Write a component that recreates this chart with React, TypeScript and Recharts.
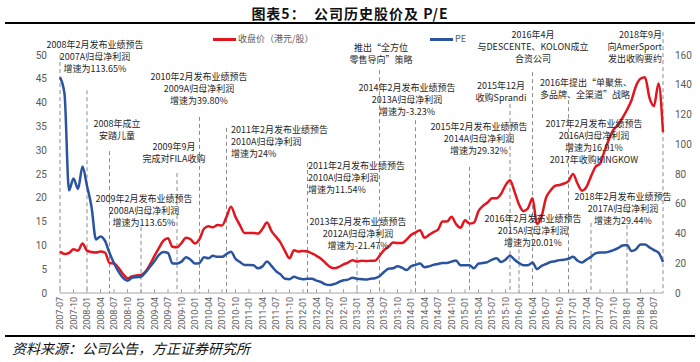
import React from 'react';
import { LineChart, Line, XAxis, YAxis, ReferenceLine } from 'recharts';

// monthly categories 2007-07 .. 2018-09
const months: string[] = Array.from({ length: 135 }, (_, i) => {
  const y = 2007 + Math.floor((i + 6) / 12);
  const m = ((i + 6) % 12) + 1;
  return `${y}-${String(m).padStart(2, '0')}`;
});

// 收盘价（港元/股）, left axis
const closePrice = [
  8.7, 8.2, 8.4, 9.2, 8.9, 10.4, 8.9, 8.6, 8.5, 8.7, 8.5, 6.3, 6.2, 5.3, 4.0, 3.1, 3.5, 3.7,
  3.8, 4.5, 6.0, 7.8, 9.5, 11.0, 11.5, 9.7, 9.6, 10.5, 11.6, 11.3, 10.4, 11.3, 13.5, 14.0, 13.8, 14.3,
  14.2, 16.0, 18.1, 16.0, 14.2, 12.6, 12.6, 12.6, 12.5, 13.5, 14.8, 13.0, 11.8, 10.6, 8.8, 7.3, 9.0, 8.7,
  8.8, 8.7, 8.3, 7.8, 7.2, 6.3, 5.5, 5.2, 5.5, 6.0, 6.4, 6.9, 6.6, 6.8, 6.7, 6.8, 6.8, 7.8,
  9.0, 9.7, 10.6, 10.5, 10.5, 11.2, 12.2, 12.7, 13.2, 11.6, 12.2, 12.8, 13.3, 15.0, 15.0, 16.0, 14.5, 13.7,
  15.3, 14.6, 14.8, 17.2, 18.3, 19.0, 19.9, 19.9, 20.8, 22.6, 23.7, 21.3, 18.6, 17.2, 17.8, 19.9, 14.5, 16.0,
  20.0, 21.5, 22.5, 22.7, 23.0, 23.5, 25.0, 23.0, 21.5, 22.3, 24.5, 26.5, 27.2, 29.8, 32.3, 34.3, 35.3, 36.8,
  38.5, 40.5, 43.5, 45.0, 45.3, 41.0, 39.3, 44.0, 33.8,
];

// PE, right axis
const pe = [
  145, 134, 69, 77, 70, 85, 72, 58, 36, 38, 35, 27, 20, 14.4, 10.2, 8.3, 10.2, 10.6,
  10.9, 13.8, 17.6, 21.4, 25.6, 27.5, 26.9, 19.8, 19.8, 21.1, 24, 22.4, 19.8, 20.2, 24, 23.4, 25, 24.3,
  24.3, 26.2, 27.8, 23, 20.8, 18.9, 18.9, 18.6, 16.6, 17.9, 21.1, 18.2, 14.7, 12.5, 9.6, 9.3, 10.9, 9.9,
  9.3, 9.6, 9.6, 8.3, 7.4, 5.8, 5.4, 6.1, 7.4, 8.6, 9.0, 10.2, 9.6, 9.3, 9.0, 9.6, 9.9, 11.2,
  14.1, 16.3, 16.6, 17.9, 17.0, 15.4, 17.9, 18.9, 19.8, 17.3, 17.9, 18.9, 19.5, 20.2, 20.2, 21.1, 21.8, 18.6,
  18.6, 18.6, 16.6, 19.8, 20.2, 20.8, 22.4, 23.4, 20.8, 22.4, 25, 22.4, 20.2, 18.6, 18.6, 20.5, 16, 18.2,
  19.5, 20.8, 21.4, 22.1, 22.4, 23, 24.3, 21.8, 20.5, 22.4, 24.3, 26.6, 27.2, 27.2, 27.8, 28.8, 30.1, 32,
  32.3, 28.2, 29.4, 32.6, 32.6, 30.7, 28.8, 27.2, 20.8,
];

const leftTicks = [0, 5, 10, 15, 20, 25, 30, 35, 40, 45, 50];
const rightTicks = [0, 20, 40, 60, 80, 100, 120, 140, 160];

// event markers (dashed lines), top given in left-axis units
const eventMonths = [
  '2007-07', '2008-01', '2008-06', '2009-01', '2009-09', '2010-02', '2010-08', '2012-02', '2013-01',
  '2013-06', '2014-02', '2015-02', '2015-11', '2016-01', '2016-04', '2016-12', '2017-05', '2018-01', '2018-09',
];
const eventTops = [50, 42.6, 29.8, 13.9, 25.2, 37, 34.7, 27.3, 9.0, 46.8, 36.3, 26.5, 39.7, 9.2, 46.4, 40.5, 14.7, 14.3, 54.8];

const data = months.map((m, i) => ({ month: m, close: closePrice[i], pe: pe[i] }));

const RED = '#E2161F';
const BLUE = '#2B54A0';
const CJK = '"Noto Sans CJK SC", "Noto Sans", sans-serif';

const MonthTick = (props: any) => {
  const { x, y, payload } = props;
  return (
    <g transform={`translate(${x},${y})`}>
      <line x1={0} y1={0} x2={0} y2={-4} stroke="#a6a6a6" />
      <text
        transform="rotate(-90)"
        x={-4}
        y={3}
        textAnchor="end"
        fontSize={9}
        fill="#595959"
        fontFamily="Roboto, sans-serif"
      >
        {payload.value}
      </text>
    </g>
  );
};

type NoteProps = { lines: string[]; x: number; y: number; align?: 'center' | 'left' | 'right' };

function Note({ lines, x, y, align = 'center' }: NoteProps) {
  const w = 180;
  const left = align === 'center' ? x - w / 2 : align === 'right' ? x - w : x;
  return (
    <div
      style={{
        position: 'absolute',
        left,
        top: y,
        width: w,
        textAlign: align,
        fontFamily: CJK,
        fontSize: 9,
        lineHeight: '12px',
        color: '#262626',
        whiteSpace: 'pre',
      }}
    >
      {lines.map((l, i) => (
        <div key={i}>{l}</div>
      ))}
    </div>
  );
}

export default function App() {
  return (
    <div
      style={{
        position: 'absolute',
        left: 0,
        top: 0,
        width: 700,
        height: 362,
        background: '#fff',
        overflow: 'hidden',
      }}
    >
      {/* title */}
      <div
        style={{
          position: 'absolute',
          left: 0,
          top: 4,
          width: 700,
          textAlign: 'center',
          fontFamily: CJK,
          fontWeight: 700,
          fontSize: 14,
          letterSpacing: 1,
          color: '#111',
          lineHeight: '18px',
        }}
      >
        图表5：&nbsp;&nbsp;公司历史股价及 P/E
      </div>
      <div style={{ position: 'absolute', left: 5, top: 22, width: 690, height: 2, background: '#000' }} />

      <LineChart
        width={700}
        height={362}
        data={data}
        margin={{ top: 55, right: 7, bottom: 29, left: 10 }}
        style={{ position: 'absolute', left: 0, top: 0 }}
      >
        <XAxis
          dataKey="month"
          interval={2}
          height={40}
          tickSize={0}
          tickMargin={0}
          tick={<MonthTick />}
          axisLine={{ stroke: '#a6a6a6' }}
          tickLine={false}
        />
        <YAxis
          yAxisId="left"
          domain={[0, 50]}
          ticks={leftTicks}
          width={50}
          axisLine={false}
          tickLine={false}
          tickSize={0}
          tickMargin={13}
          tick={{ fontSize: 10, fill: '#595959', fontFamily: 'Roboto, sans-serif' }}
        />
        <YAxis
          yAxisId="right"
          orientation="right"
          domain={[0, 160]}
          ticks={rightTicks}
          width={30}
          axisLine={false}
          tickLine={false}
          tickSize={0}
          tickMargin={12}
          tick={{ fontSize: 10, fill: '#595959', fontFamily: 'Roboto, sans-serif' }}
        />
        {eventMonths.map((m, i) => (
          <ReferenceLine
            key={m}
            yAxisId="left"
            ifOverflow="visible"
            segment={[
              { x: m, y: eventTops[i] },
              { x: m, y: 0 },
            ]}
            stroke="#8c8c8c"
            strokeDasharray="4 3"
            strokeWidth={1}
          />
        ))}
        <Line
          yAxisId="left"
          type="monotone"
          dataKey="close"
          stroke={RED}
          strokeWidth={2.5}
          dot={false}
          isAnimationActive={false}
        />
        <Line
          yAxisId="right"
          type="monotone"
          dataKey="pe"
          stroke={BLUE}
          strokeWidth={2.5}
          dot={false}
          isAnimationActive={false}
        />
      </LineChart>

      {/* legend */}
      <div style={{ position: 'absolute', left: 213, top: 38, width: 23, height: 2.5, background: RED }} />
      <div style={{ position: 'absolute', left: 238, top: 32, fontFamily: CJK, fontSize: 9, color: '#595959', lineHeight: '14px' }}>
        收盘价（港元/股）
      </div>
      <div style={{ position: 'absolute', left: 430, top: 38, width: 23, height: 2.5, background: BLUE }} />
      <div style={{ position: 'absolute', left: 455, top: 32, fontFamily: CJK, fontSize: 9, color: '#595959', lineHeight: '14px' }}>
        PE
      </div>

      {/* annotations */}
      <Note x={95} y={39} lines={['2008年2月发布业绩预告', '2007A归母净利润', '增速为113.65%']} />
      <Note x={117} y={118} lines={['2008年成立', '安踏儿童']} />
      <Note x={199} y={71} lines={['2010年2月发布业绩预告', '2009A归母净利润', '增速为39.80%']} />
      <Note x={174} y={141} lines={['2009年9月', '完成对FILA收购']} />
      <Note x={231} y={124} align="left" lines={['2011年2月发布业绩预告', '2010A归母净利润', '增速为24%']} />
      <Note x={144} y={193} lines={['2009年2月发布业绩预告', '2008A归母净利润', '增速为113.65%']} />
      <Note x={308} y={160} align="left" lines={['2011年2月发布业绩预告', '2010A归母净利润', '增速为11.54%']} />
      <Note x={358} y={216} lines={['2013年2月发布业绩预告', '2012A归母净利润', '增速为-21.47%']} />
      <Note x={381} y={42} lines={['推出“全方位', '零售导向”策略']} />
      <Note x={407} y={82} lines={['2014年2月发布业绩预告', '2013A归母净利润', '增速为-3.23%']} />
      <Note x={501} y={80} lines={['2015年12月', '收购Sprandi']} />
      <Note x={533} y={29} lines={['2016年4月', '与DESCENTE、KOLON成立', '合资公司']} />
      <Note x={479} y={121} lines={['2015年2月发布业绩预告', '2014A归母净利润', '增速为29.32%']} />
      <Note x={540} y={77} align="left" lines={['2016年提出“单聚焦、', '多品牌、全渠道”战略']} />
      <Note x={594} y={118} lines={['2017年2月发布业绩预告', '2016A归母净利润', '增速为16.91%', '2017年收购KINGKOW']} />
      <Note x={533} y={213} lines={['2016年2月发布业绩预告', '2015A归母净利润', '增速为20.01%']} />
      <Note x={623} y={191} lines={['2018年2月发布业绩预告', '2017A归母净利润', '增速为29.44%']} />
      <Note x={662} y={29} align="right" lines={['2018年9月', '向AmerSport', '发出收购要约']} />

      {/* footer */}
      <div style={{ position: 'absolute', left: 5, top: 335, width: 690, height: 2, background: '#000' }} />
      <div
        style={{
          position: 'absolute',
          left: 12,
          top: 339,
          fontFamily: CJK,
          fontStyle: 'italic',
          fontSize: 14,
          color: '#111',
          lineHeight: '18px',
        }}
      >
        资料来源：公司公告，方正证券研究所
      </div>
    </div>
  );
}
